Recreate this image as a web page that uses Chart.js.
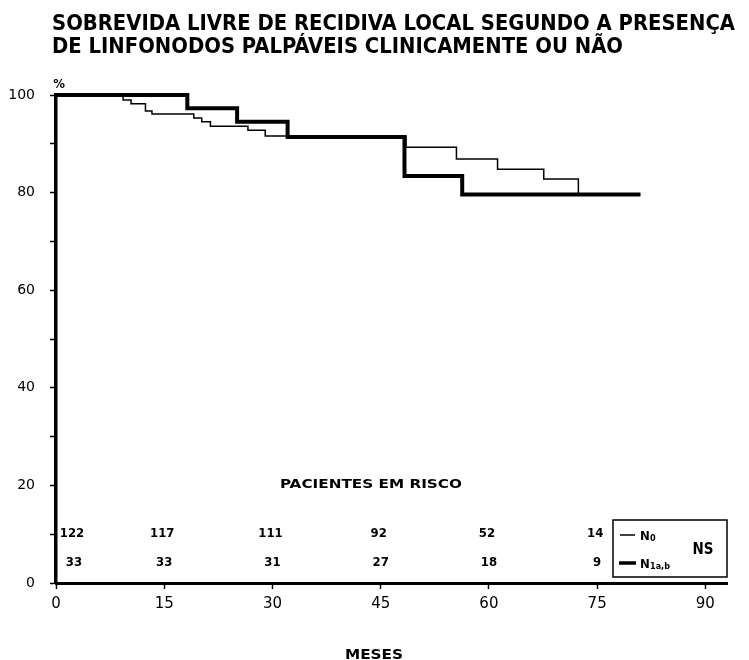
<!DOCTYPE html>
<html>
<head>
<meta charset="utf-8">
<script src="https://cdn.jsdelivr.net/npm/chart.js@4.4.0/dist/chart.umd.min.js"></script>
<style>
  html, body { margin: 0; padding: 0; background: #fff; }
  #wrap { width: 749px; height: 660px; position: relative; }
</style>
</head>
<body>
<div id="wrap"><canvas id="myChart" width="749" height="660"></canvas></div>
<script>
'use strict'

// curva N0 (linha fina)
const mesesN0 = [0, 9.3, 10.4, 12.4, 13.3, 19.1, 20.2, 21.4, 26.6, 29.0, 48.5, 55.5, 61.2, 67.6, 72.4, 81]
const sobrevidaN0 = [100, 99.0, 98.2, 96.7, 96.1, 95.3, 94.5, 93.6, 92.8, 91.6, 89.3, 86.9, 84.8, 82.8, 79.6, 79.6]

// curva N1a,b (linha grossa)
const mesesN1 = [0, 18.2, 25.1, 32.1, 48.3, 56.3, 81]
const sobrevidaN1 = [100, 97.3, 94.5, 91.4, 83.4, 79.6, 79.6]

// pacientes em risco
const mesesRisco = [0, 15, 30, 45, 60, 75]
const riscoN0 = [122, 117, 111, 92, 52, 14]
const riscoN1 = [33, 33, 31, 27, 18, 9]

const ticksX = [0, 15, 30, 45, 60, 75, 90]

const titulo = ['SOBREVIDA LIVRE DE RECIDIVA LOCAL SEGUNDO A PRESENÇA',
  'DE LINFONODOS PALPÁVEIS CLINICAMENTE OU NÃO']

const condensada = '"DejaVu Sans Condensed", "Liberation Sans Narrow", "Liberation Sans", sans-serif'

const pontos = (xs, ys) => xs.map((x, i) => ({x: x, y: ys[i]}))

// escreve texto comprimido/esticado para ocupar uma largura
const textoLargura = function (ctx, txt, x, y, largura, align) {
  const w = ctx.measureText(txt).width
  const s = largura / w
  ctx.save()
  ctx.translate(x, y)
  ctx.scale(s, 1)
  ctx.textAlign = align || 'left'
  ctx.fillText(txt, 0, 0)
  ctx.restore()
}

const extras = {
  id: 'extras',
  afterDraw(chart) {
    const ctx = chart.ctx
    const xs = chart.scales.x
    const ys = chart.scales.y
    ctx.save()
    ctx.fillStyle = '#000'
    ctx.strokeStyle = '#000'
    ctx.textBaseline = 'alphabetic'

    // titulo
    ctx.font = 'bold 21px ' + condensada
    const w1 = ctx.measureText(titulo[0]).width
    const s = 683 / w1
    ctx.save()
    ctx.translate(52, 30)
    ctx.scale(s, 1)
    ctx.fillText(titulo[0], 0, 0)
    ctx.fillText(titulo[1], 0, 23)
    ctx.restore()

    // simbolo %
    ctx.font = 'bold 13px ' + condensada
    ctx.textAlign = 'center'
    ctx.fillText('%', 59, 88)

    // pacientes em risco
    ctx.font = 'bold 12px ' + condensada
    textoLargura(ctx, 'PACIENTES EM RISCO', 371, 488, 182, 'center')

    ctx.font = 'bold 13px ' + condensada
    ctx.textAlign = 'center'
    ctx.textBaseline = 'middle'
    mesesRisco.forEach((m, i) => {
      let px = xs.getPixelForValue(m)
      if (m === 0) px += 18
      ctx.fillText(String(riscoN0[i]), px - 2, ys.getPixelForValue(10.2))
      ctx.fillText(String(riscoN1[i]), px, ys.getPixelForValue(4.1))
    })

    // caixa da legenda
    ctx.lineWidth = 1.5
    ctx.strokeRect(613, 520, 114, 57)
    ctx.beginPath()
    ctx.lineWidth = 1.5
    ctx.moveTo(620, 535)
    ctx.lineTo(635, 535)
    ctx.stroke()
    ctx.beginPath()
    ctx.lineWidth = 3.5
    ctx.moveTo(619, 563)
    ctx.lineTo(636, 563)
    ctx.stroke()

    ctx.textAlign = 'left'
    ctx.textBaseline = 'alphabetic'
    ctx.font = 'bold 13px ' + condensada
    ctx.fillText('N', 640, 540)
    ctx.fillText('N', 640, 568)
    ctx.font = 'bold 9px ' + condensada
    ctx.fillText('0', 650, 541)
    ctx.fillText('1a,b', 650, 569)

    ctx.font = 'bold 15px ' + condensada
    ctx.textAlign = 'center'
    ctx.textBaseline = 'middle'
    ctx.fillText('NS', 703, 550)

    // titulo do eixo x
    ctx.font = 'bold 14px ' + condensada
    textoLargura(ctx, 'MESES', 374, 655, 58, 'center')

    ctx.restore()
  }
}

const ctx = document.getElementById('myChart')

new Chart(ctx, {
  type: 'line',
  data: {
    datasets: [{
      label: 'N0',
      data: pontos(mesesN0, sobrevidaN0),
      borderColor: '#000',
      borderWidth: 1.5,
      pointRadius: 0,
      stepped: true,
      fill: false,
      clip: false
    }, {
      label: 'N1a,b',
      data: pontos(mesesN1, sobrevidaN1),
      borderColor: '#000',
      borderWidth: 4,
      pointRadius: 0,
      stepped: true,
      fill: false,
      clip: false
    }]
  },
  options: {
    responsive: false,
    animation: false,
    layout: {padding: {top: 95, left: 0, right: 22, bottom: 0}},
    plugins: {
      legend: {display: false},
      title: {display: false},
      tooltip: {enabled: false}
    },
    scales: {
      x: {
        type: 'linear',
        min: 0,
        max: 93,
        afterBuildTicks: (scale) => { scale.ticks = ticksX.map(v => ({value: v})) },
        afterFit: (scale) => { scale.height = 77 },
        border: {display: true, color: '#000', width: 3},
        grid: {drawOnChartArea: false, drawTicks: true, tickLength: 6, tickColor: '#000', tickWidth: 1.5, color: '#000'},
        ticks: {
          color: '#000',
          padding: 6,
          maxRotation: 0,
          font: {family: '"DejaVu Sans", sans-serif', size: 15}
        }
      },
      y: {
        min: 0,
        max: 100,
        afterFit: (scale) => { scale.width = 56 },
        border: {display: true, color: '#000', width: 3.5},
        grid: {drawOnChartArea: false, drawTicks: true, tickLength: 6, tickColor: '#000', tickWidth: 1.5, color: '#000'},
        ticks: {
          stepSize: 10,
          color: '#000',
          padding: 15,
          callback: (v) => (v % 20 === 0 ? v : ''),
          font: {family: '"DejaVu Sans", sans-serif', size: 14}
        }
      }
    }
  },
  plugins: [extras]
})
</script>
</body>
</html>
